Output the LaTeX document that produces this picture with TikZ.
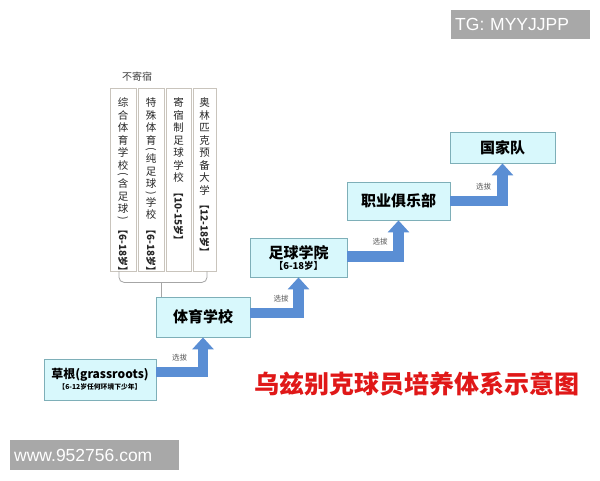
\documentclass[tikz,border=0pt]{standalone}
\usepackage{graphicx}
\usepackage{fontspec}
\setmainfont{Noto Sans CJK SC}
\newfontfamily\wmfont{Liberation Sans}
\usetikzlibrary{arrows.meta,calc}
\definecolor{boxfill}{HTML}{D8F8FC}
\definecolor{boxline}{HTML}{7EAFB8}
\definecolor{arrowblue}{HTML}{5A8ED4}
\definecolor{vline}{HTML}{C9C4BC}
\definecolor{titlered}{HTML}{E01818}
\definecolor{wmgray}{HTML}{A8A8A8}
\newcommand\vch[1]{\hbox to 14pt{\hss\raisebox{0pt}[10pt][2.5pt]{#1}\hss}}
\newcommand\vpa[1]{\hbox to 14pt{\hss\raisebox{5pt}[6pt][0pt]{\rotatebox{-90}{#1}}\hss}}
\newcommand\vrt[1]{\kern3pt\hbox to 14pt{\hss{\fontsize{10}{11}\selectfont\bfseries\rotatebox{-90}{#1}}\hss}}
\tikzset{
  stage/.style={draw=boxline, fill=boxfill, line width=0.8pt, inner sep=0pt, align=center},
  vcol/.style={draw=vline, fill=white, line width=0.8pt, minimum height=183pt, inner sep=0pt},
  vtext/.style={below=9pt, inner sep=0pt, text=black!85},
  flow/.style={draw=arrowblue, line width=10.5pt, line join=miter, -{Triangle[width=21pt,length=12pt]}},
  lbl/.style={above=5pt, inner sep=0.5pt, font=\fontsize{7.5}{8}\selectfont, text=black!65},
  brc/.style={draw=black!35, line width=0.8pt, rounded corners=5pt},
  wm/.style={fill=wmgray, text=white, font=\wmfont\fontsize{17.5}{20}\selectfont, inner xsep=4pt, inner ysep=0pt, align=left, anchor=west},
  bigtxt/.style={font=\bfseries\fontsize{15}{18}\selectfont}
}
\begin{document}
\begin{tikzpicture}[x=1pt,y=-1pt]
\useasboundingbox (0,0) rectangle (600,480);
\fill[white] (0,0) rectangle (600,480);

% vertical school columns
\node[vcol, minimum width=26pt] (v1) at (123,179.5) {};
\node[vcol, minimum width=26pt] (v2) at (151,179.5) {};
\node[vcol, minimum width=25pt] (v3) at (178.5,179.5) {};
\node[vcol, minimum width=23pt] (v4) at (204.5,179.5) {};
\node[vtext] (t1) at (v1.north) {\vbox{\offinterlineskip\fontsize{10.5}{12}\selectfont
  \vch{综}\vch{合}\vch{体}\vch{育}\vch{学}\vch{校}\vpa{(}\vch{含}\vch{足}\vch{球}\vpa{)}\vrt{【6-18岁】}}};
\node[vtext] (t2) at (v2.north) {\vbox{\offinterlineskip\fontsize{10.5}{12}\selectfont
  \vch{特}\vch{殊}\vch{体}\vch{育}\vpa{(}\vch{纯}\vch{足}\vch{球}\vpa{)}\vch{学}\vch{校}\vrt{【6-18岁】}}};
\node[vtext] (t3) at (v3.north) {\vbox{\offinterlineskip\fontsize{10.5}{12}\selectfont
  \vch{寄}\vch{宿}\vch{制}\vch{足}\vch{球}\vch{学}\vch{校}\vrt{【10-15岁】}}};
\node[vtext] (t4) at (v4.north) {\vbox{\offinterlineskip\fontsize{10.5}{12}\selectfont
  \vch{奥}\vch{林}\vch{匹}\vch{克}\vch{预}\vch{备}\vch{大}\vch{学}\vrt{【12-18岁】}}};
\node[above=6pt, inner sep=0pt, font=\fontsize{10}{11}\selectfont, text=black!75] (nb)
  at ($(v1.north)!0.5!(v2.north)$) {不寄宿};

% stage boxes
\node[stage, minimum width=112pt, minimum height=41pt] (grass) at (100,379.5)
  {{\bfseries\fontsize{12}{14}\selectfont 草根(grassroots)}\\[-1pt]{\bfseries\fontsize{6.8}{8}\selectfont 【6-12岁任何环境下少年】}};
\node[stage, bigtxt, minimum width=94pt, minimum height=40pt] (tiyu) at (203,317) {体育学校};
\node[stage, minimum width=97pt, minimum height=39pt] (zuqiu) at (298.5,257.5)
  {{\bfseries\fontsize{15}{17}\selectfont 足球学院}\\[-1pt]{\bfseries\fontsize{9.5}{11}\selectfont 【6-18岁】}};
\node[stage, bigtxt, minimum width=103pt, minimum height=38pt] (zhiye) at (398.5,201) {职业俱乐部};
\node[stage, bigtxt, minimum width=105pt, minimum height=31pt] (guojia) at (502.5,147.5) {国家队};

% brace from columns to sports school
\draw[brc] ($(v1.south)+(-4,0)$) -- ++(0,11) -| ($(v4.south)+(2.5,0)$);
\coordinate (bm) at (161,282);
\draw[brc] (bm) -- (bm |- tiyu.north);

% selection arrows
\draw[flow] ($(grass.north east)!0.32!(grass.south east)$) -| (tiyu.south) node[pos=0.25, lbl] {选拔};
\draw[flow] ($(tiyu.north east)!0.4!(tiyu.south east)$) -| (zuqiu.south) node[pos=0.32, lbl] {选拔};
\draw[flow] ($(zuqiu.north east)!0.47!(zuqiu.south east)$) -| (zhiye.south) node[pos=0.32, lbl] {选拔};
\draw[flow] ($(zhiye.north east)!0.5!(zhiye.south east)$) -| (guojia.south) node[pos=0.32, lbl] {选拔};

% title
\node[inner sep=0pt, text=titlered, font=\bfseries\fontsize{25}{28}\selectfont] (ttl) at (416.5,383.5) {乌兹别克球员培养体系示意图};

% watermarks
\node[wm, text width=131pt, minimum height=29pt] (tg) at (451,24.5) {TG: MYYJJPP};
\node[wm, text width=161pt, minimum height=30pt] (www) at (10,455) {www.952756.com};
\end{tikzpicture}
\end{document}
